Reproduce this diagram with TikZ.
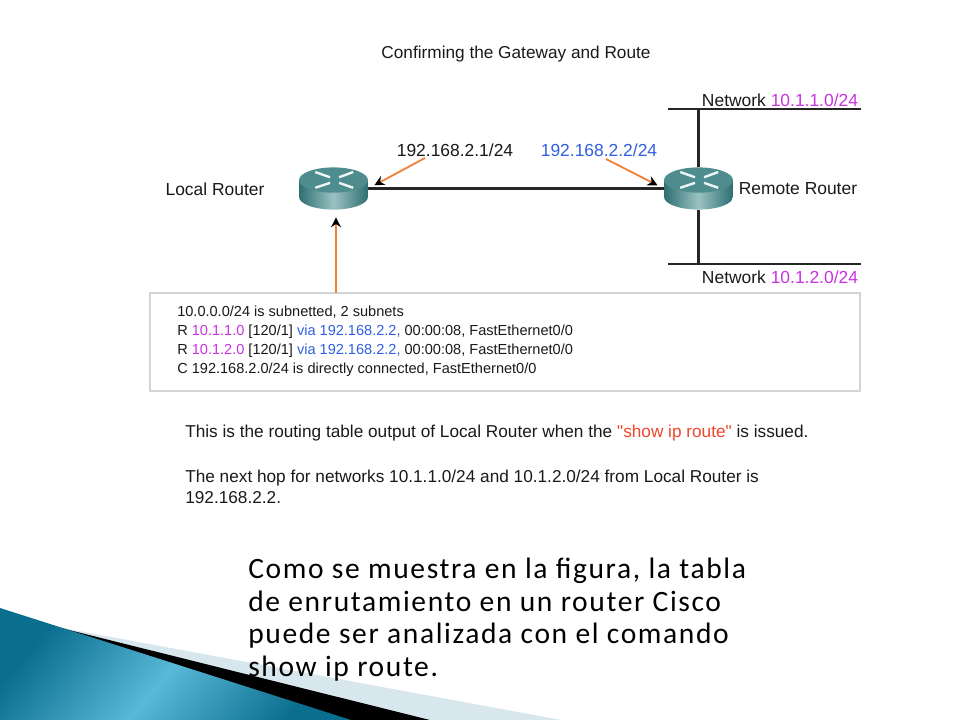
\documentclass[tikz,border=0pt]{standalone}
\usepackage{fontspec}
\setmainfont{Liberation Sans}
\newfontfamily\plainface{Liberation Sans}
\newfontfamily\slidefont[LetterSpace=5.5]{Carlito}
\usetikzlibrary{arrows.meta}
\definecolor{netpink}{HTML}{C832E0}
\definecolor{hopblue}{HTML}{2F5FE0}
\definecolor{pointer}{HTML}{EE8236}
\definecolor{boxgray}{HTML}{D4D4D4}
\definecolor{quotered}{HTML}{F0452A}
\definecolor{routertop}{HTML}{4F8C8E}
\definecolor{routerside}{HTML}{2E6F73}
\definecolor{routerlight}{HTML}{9CC2C2}
\definecolor{wedgedark}{HTML}{0A6E8E}
\definecolor{wedgelight}{HTML}{5AB8D8}
\definecolor{wedgepale}{HTML}{D8E7EE}
\tikzset{
    every node/.style={align=left,inner sep=0pt,text=black!90},
    diagtext/.style={font=\fontsize{12.4pt}{15pt}\selectfont},
    captext/.style={font=\fontsize{12.25pt}{15pt}\selectfont},
    wire/.style={draw=black!85,line width=1.5pt},
    pointerarrow/.style={draw=pointer,line width=1.3pt,shorten >=5pt,
        -{Stealth[black,length=7pt,width=7pt]}},
    router/.style={minimum width=49pt,minimum height=30.6pt,
        path picture={
            \shade[left color=routerside,right color=routerside,middle color=routerlight]
                ([yshift=6pt]path picture bounding box.west) -- ([yshift=6pt]path picture bounding box.east)
                -- ([yshift=-6pt]path picture bounding box.east)
                arc[start angle=0,end angle=-180,x radius=24.5pt,y radius=9pt] -- cycle;
            \fill[routertop] ([yshift=6pt]path picture bounding box.center) ellipse[x radius=24.5pt,y radius=9pt];
            \draw[white!92!teal,line width=1.7pt]
                ([xshift=-13pt,yshift=11.7pt]path picture bounding box.center) -- ([xshift=-2.5pt,yshift=8pt]path picture bounding box.center)
                ([xshift=14pt,yshift=11.7pt]path picture bounding box.center) -- ([xshift=4pt,yshift=8pt]path picture bounding box.center)
                ([xshift=-13pt,yshift=0.5pt]path picture bounding box.center) -- ([xshift=-2.5pt,yshift=4pt]path picture bounding box.center)
                ([xshift=14pt,yshift=0.5pt]path picture bounding box.center) -- ([xshift=4pt,yshift=4pt]path picture bounding box.center);
        }},
}

\begin{document}
\begin{tikzpicture}[x=0.025cm,y=-0.025cm]
    \useasboundingbox (0,0) rectangle (960,720);

    % corner wedges
    \fill[wedgepale] (57,627) -- (561,720) -- (330,720) -- cycle;
    \fill[black] (57,627) -- (430,720) -- (340,720) -- cycle;
    \shade[left color=wedgedark,right color=wedgedark,middle color=wedgelight,shading angle=50]
        (0,608) -- (351,720) -- (0,720) -- cycle;

    % routers
    \node[router] (local) at (333.5,188.5) {};
    \node[router] (remote) at (698.5,188.5) {};

    \node[diagtext] (local_name) at (215,189) {Local Router};
    \node[diagtext] (remote_name) at (798,189) {Remote Router};
    \node[captext] (title) at (516,54) {Confirming the Gateway and Route};
    \node[diagtext] (addr_local) at (455,150) {192.168.2.1/24};
    \node[diagtext,text=hopblue] (addr_remote) at (599,150) {192.168.2.2/24};
    \node[diagtext] (net_top) at (780,100) {Network \textcolor{netpink}{10.1.1.0/24}};
    \node[diagtext] (net_bottom) at (780,277) {Network \textcolor{netpink}{10.1.2.0/24}};

    % networks and links
    \coordinate (top_l) at (668,109);
    \coordinate (top_r) at (861,109);
    \coordinate (bot_l) at (668,264);
    \coordinate (bot_r) at (861,264);
    \draw[wire] (top_l) to (top_r);
    \draw[wire] (bot_l) to (bot_r);
    \draw[wire] (remote.north) to (remote.north |- top_l);
    \draw[wire] (remote.south) to (remote.south |- bot_l);
    \draw[wire] (local.east) to (remote.west);

    % routing table
    \node[draw=boxgray,line width=1.7pt,minimum width=710*0.025cm,minimum height=98*0.025cm] (table) at (505,342) {};
    \node[anchor=west,font=\fontsize{10.35pt}{13.5pt}\selectfont] (table_text) at (177,341.5) {10.0.0.0/24 is subnetted, 2 subnets\\
        R \textcolor{netpink}{10.1.1.0} [120/1] \textcolor{hopblue}{via 192.168.2.2,} 00:00:08, FastEthernet0/0\\
        R \textcolor{netpink}{10.1.2.0} [120/1] \textcolor{hopblue}{via 192.168.2.2,} 00:00:08, FastEthernet0/0\\
        C 192.168.2.0/24 is directly connected, FastEthernet0/0};

    % pointers
    \coordinate (from_local) at (425,158);
    \coordinate (from_remote) at (606,159);
    \coordinate (from_table) at (336,293);
    \draw[pointerarrow] (from_local) to (local.east);
    \draw[pointerarrow] (from_remote) to (remote.west);
    \draw[pointerarrow] (from_table) to (from_table |- local.south);

    % notes
    \node[captext,anchor=west] (note_one) at (185,433) {This is the routing table output of Local Router when the \textcolor{quotered}{\plainface "show ip route"} is issued.};
    \node[captext,anchor=north west] (note_two) at (185,470) {The next hop for networks 10.1.1.0/24 and 10.1.2.0/24 from Local Router is\\192.168.2.2.};
    \node[anchor=north west,text=black,font=\slidefont\fontsize{21pt}{23.1pt}\selectfont] (slide_text) at (248,558) {Como se muestra en la figura, la tabla\\de enrutamiento en un router Cisco\\puede ser analizada con el comando\\show ip route.};
\end{tikzpicture}
\end{document}
